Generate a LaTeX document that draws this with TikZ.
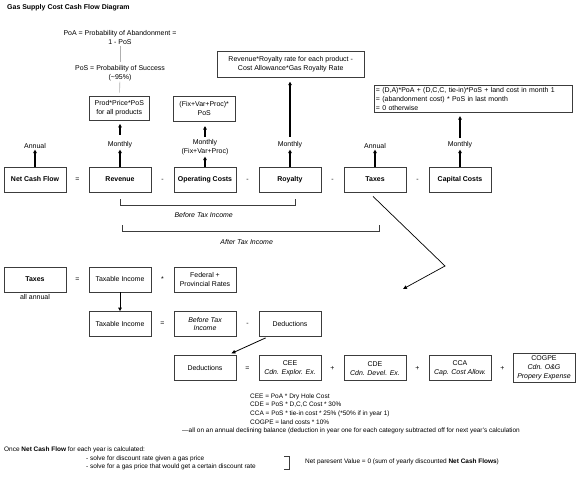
\documentclass[tikz,border=0pt]{standalone}
\usepackage{fontspec}
\setmainfont{Liberation Sans}
\usetikzlibrary{arrows.meta,positioning,calc}
\definecolor{boxline}{RGB}{60,60,60}
\definecolor{guidegray}{RGB}{175,175,175}

\begin{document}
\begin{tikzpicture}[x=1bp, y=-1bp,
  every node/.style={font=\fontsize{7}{9}\selectfont, inner sep=1bp},
  box/.style={draw=boxline, line width=0.8bp, minimum width=62bp, minimum height=25bp, align=center, inner sep=2bp},
  bbox/.style={box, font=\bfseries\fontsize{7}{9}\selectfont},
  lbl/.style={align=center},
  note/.style={font=\fontsize{6.5}{8.7}\selectfont, align=left},
  up/.style={-{Triangle[length=3.5bp,width=3.5bp]}, line width=1.2bp},
  thin/.style={-{Triangle[length=4bp,width=3.5bp]}, line width=0.8bp},
  brk/.style={draw=boxline, line width=0.8bp}]
  \useasboundingbox (0,0) rectangle (580,483);

  \node[anchor=west, font=\bfseries\fontsize{7}{9}\selectfont] (title) at (6,8) {Gas Supply Cost Cash Flow Diagram};

  % main equation
  \foreach \n/\t [count=\i from 0] in {ncf/Net Cash Flow, rev/Revenue, opc/Operating Costs, roy/Royalty, tax/Taxes, cap/Capital Costs}
    \node[bbox] (\n) at (35+85*\i,179.5) {\t};
  \foreach \s [count=\i from 0] in {=,-,-,-,-}
    \node (op\i) at (77.5+85*\i,180) {\s};

  \foreach \n/\t in {ncf/Annual, rev/Monthly, roy/Monthly, tax/Annual, cap/Monthly}{
    \node[above=17bp of \n] (\n lab) {\t};
    \draw[up] (\n) -- (\n lab);
  }
  \node[lbl, above=10bp of opc] (opclab) {Monthly\\(Fix+Var+Proc)};
  \draw[up] (opc) -- (opclab);

  % formulas above
  \node[lbl] (poa) at (120,37.5) {PoA = Probability of Abandonment =\\1 - PoS};
  \node[lbl] (pos) at (120,72.8) {PoS = Probability of Success\\(\textasciitilde95\%)};
  \node[box, minimum width=60bp, minimum height=24.5bp] (prod) at (119.3,108.3) {Prod*Price*PoS\\for all products};
  \node[box, minimum width=61.7bp, minimum height=25.7bp] (fvp) at (204.2,108.8) {(Fix+Var+Proc)*\\PoS};
  \node[box, minimum width=147bp, minimum height=25.6bp] (rrate) at (290.7,64.5) {Revenue*Royalty rate for each product -\\Cost Allowance*Gas Royalty Rate};
  \node[box, minimum width=198.7bp, minimum height=27.7bp, inner xsep=1.5bp, text width=195bp, align=left] (capf) at (473.4,98.9) {= (D,A)*PoA + (D,C,C, tie-in)*PoS + land cost in month 1\\= (abandonment cost) * PoS in last month\\= 0 otherwise};

  \draw[guidegray, line width=0.6bp, shorten >=2bp] (poa) -- (pos);
  \draw[guidegray, line width=0.6bp, shorten >=3bp] (pos) -- (prod);
  \draw[up, shorten <=6bp, shorten >=3bp] (revlab.north) -- (revlab.north |- prod.south);
  \draw[up, shorten <=1.5bp, shorten >=4bp] (opclab.north) -- (opclab.north |- fvp.south);
  \draw[up, shorten <=4bp, shorten >=4bp] (roylab.north) -- (roylab.north |- rrate.south);
  \draw[up, shorten <=2.5bp, shorten >=3bp] (caplab.north) -- (caplab.north |- capf.south);

  % income brackets
  \draw[brk] ($(rev.south)+(0,7)$) |- ($(roy.south)+(5,13)$) -- ++(0,-6);
  \node[font=\itshape\fontsize{7}{9}\selectfont] (bti lab) at (203.7,215) {Before Tax Income};
  \draw[brk] ($(rev.south)+(2.5,33)$) |- ($(tax.south)+(4,39)$) -- ++(0,-6);
  \node[font=\itshape\fontsize{7}{9}\selectfont] (ati lab) at (246.7,242) {After Tax Income};

  \coordinate (vtx) at (445,266);
  \coordinate (tip) at (403,289);
  \draw[thin, line width=0.7bp] ($(tax.south)+(-2,4)$) -- (vtx) -- (tip);

  % taxes
  \node[bbox] (tax2) at (35,279.5) {Taxes};
  \node[below=1bp of tax2] (annual) {all annual};
  \node (eq2) at (77.5,279.5) {=};
  \node[box] (ti1) at (120,279.5) {Taxable Income};
  \node (mul) at (162.5,279.5) {*};
  \node[box] (rates) at (205,279.5) {Federal +\\Provincial Rates};

  \node[box] (ti2) at (120,324) {Taxable Income};
  \node (eq3) at (162.5,324) {=};
  \node[box, font=\itshape\fontsize{7}{9}\selectfont] (bti) at (205,324) {Before Tax\\Income};
  \node (min3) at (247.5,324) {-};
  \node[box] (ded1) at (290,324) {Deductions};
  \draw[up, line width=1bp] (ti1) -- (ti2);

  % deductions
  \node[box] (ded2) at (205,368.3) {Deductions};
  \node[box] (cee) at (290,368.3) {CEE\\\textit{Cdn. Explor. Ex.}};
  \node[box] (cde) at (375,368.3) {CDE\\\textit{Cdn. Devel. Ex.}};
  \node[box] (cca) at (460,368.3) {CCA\\\textit{Cap. Cost Allow.}};
  \node[box, minimum height=29.4bp] (cogpe) at (544,368) {COGPE\\\textit{Cdn. O\&G}\\\textit{Propery Expense}};
  \foreach \s [count=\i from 0] in {=,+,+,+}
    \node (dop\i) at (247.5+85*\i,368.3) {\s};
  \draw[thin] ($(ded1.south west)+(7,1)$) -- ($(ded2.north east)+(-5,-2)$);

  \node[note, anchor=north west] (rules) at (249,392.3) {CEE = PoA * Dry Hole Cost\\CDE = PoS * D,C,C Cost * 30\%\\CCA = PoS * tie-in cost * 25\% (*50\% if in year 1)\\COGPE = land costs * 10\%};
  \node[note, anchor=west] (allnote) at (181,431) {—all on an annual declining balance (deduction in year one for each category subtracted off for next year's calculation};

  % solving
  \node[note, anchor=west] (once) at (3,450) {Once \textbf{Net Cash Flow} for each year is calculated:};
  \node[note, anchor=west] (solve1) at (85,459) {- solve for discount rate given a gas price};
  \node[note, anchor=west] (solve2) at (85,467) {- solve for a gas price that would get a certain discount rate};
  \draw[brk] (284,456) -| (289,469) -- (284,469);
  \node[note, anchor=west] (npv) at (304,462) {Net paresent Value = 0 (sum of yearly discounted \textbf{Net Cash Flows})};
\end{tikzpicture}
\end{document}
